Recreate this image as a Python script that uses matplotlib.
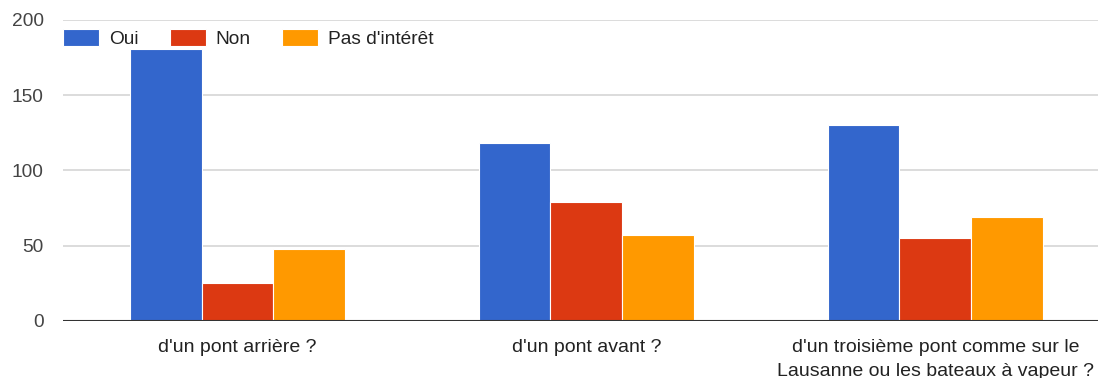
from matplotlib import pyplot as plt
import numpy as np

# Survey answers per question
questions = ["d'un pont arrière ?", "d'un pont avant ?",
             "d'un troisième pont comme sur le\nLausanne ou les bateaux à vapeur ?"]
oui = [181, 118, 130]
non = [25, 79, 55]
pas_interet = [48, 57, 69]

series = [("Oui", oui, "#3366cc"),
          ("Non", non, "#dc3912"),
          ("Pas d'intérêt", pas_interet, "#ff9900")]

plt.rcParams['font.family'] = ['Liberation Sans', 'DejaVu Sans']

fig = plt.figure(figsize=(10.98, 3.78), dpi=100)
ax = fig.add_axes([63 / 1098, (378 - 320.7) / 378, 1 - 63 / 1098, 300.7 / 378])

x = np.arange(len(questions))
width = 0.206
for i, (name, vals, color) in enumerate(series):
    ax.bar(x + (i - 1) * width, vals, width=width, color=color,
           edgecolor='white', linewidth=0.8, label=name, zorder=3)

ax.set_xlim(-0.5, 2.466)
ax.set_ylim(0, 200)
ax.set_yticks([0, 50, 100, 150, 200])
ax.yaxis.grid(True, color='#d9d9d9', linewidth=1.3, zorder=0)
ax.axhline(0, color='#333333', linewidth=1.5, zorder=4)

ax.set_xticks(x)
ax.set_xticklabels(questions, fontsize=14, color='#222222', linespacing=1.55)
ax.tick_params(axis='x', length=0, pad=13)
ax.tick_params(axis='y', length=0, pad=14, labelsize=13.8, labelcolor='#444444')

for side in ['top', 'right', 'left', 'bottom']:
    ax.spines[side].set_visible(False)

leg = ax.legend(loc='upper left', bbox_to_anchor=(0, 1 - 9 / 300.7), ncol=3,
                frameon=False, fontsize=13.8, handlelength=1.9, handleheight=1.0,
                handletextpad=0.5, columnspacing=1.62, borderaxespad=0,
                borderpad=0)
for t in leg.get_texts():
    t.set_color('#222222')

plt.savefig('out.png', dpi=100)
